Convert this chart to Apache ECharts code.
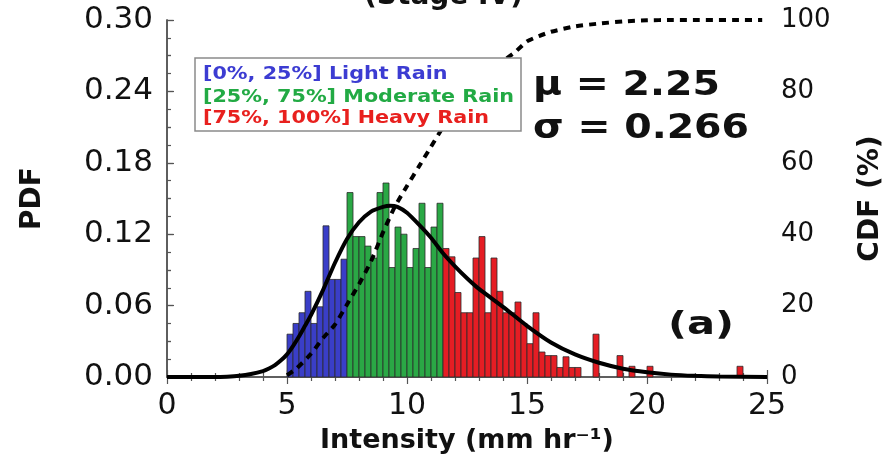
<!DOCTYPE html>
<html>
<head>
<meta charset="utf-8">
<script src="https://cdn.jsdelivr.net/npm/echarts@6/dist/echarts.min.js"></script>
<style>
  html, body { margin: 0; padding: 0; background: #fff; }
  #chart { width: 887px; height: 463px; }
</style>
</head>
<body>
<div id="chart"></div>
<script>
// histogram bins (mm/hr), PDF heights per bin
var binWidth = 0.25;
var lightStart = 5.0;
var lightPdf = [0.036, 0.045, 0.054, 0.072, 0.045, 0.059, 0.127, 0.082, 0.082, 0.099];
var moderateStart = 7.5;
var moderatePdf = [0.155, 0.118, 0.118, 0.110, 0.100, 0.155, 0.163, 0.092,
                   0.126, 0.120, 0.092, 0.108, 0.146, 0.092, 0.126, 0.146];
var heavyStart = 11.5;
var heavyPdf = [0.108, 0.101, 0.071, 0.054, 0.054, 0.100, 0.118, 0.054, 0.100, 0.072,
                0.054, 0.054, 0.063, 0.045, 0.028, 0.054, 0.021, 0.018, 0.018, 0.008,
                0.017, 0.008, 0.008, 0, 0, 0.036, 0, 0, 0, 0.018,
                0, 0.009, 0, 0, 0.009, 0, 0, 0, 0, 0,
                0, 0, 0, 0, 0, 0, 0, 0, 0, 0.009];

// fitted lognormal PDF
var pdfX = [0, 2.0, 2.5, 3.0, 3.5, 4.0, 4.25, 4.5, 4.75, 5.0, 5.25, 5.5, 5.75, 6.0, 6.5, 7.0,
            7.5, 8.0, 8.5, 9.0, 9.3, 9.6, 10.0, 10.5, 11.0, 11.5, 12.0, 12.5, 13.0, 14.0,
            15.0, 16.0, 17.0, 18.0, 19.0, 20.0, 21.0, 22.0, 23.0, 25.0];
var pdfY = [0, 0, 0.0003, 0.001, 0.0025, 0.005, 0.0072, 0.010, 0.014, 0.019, 0.026, 0.034,
            0.043, 0.052, 0.073, 0.096, 0.116, 0.130, 0.139, 0.143, 0.144, 0.143, 0.138,
            0.128, 0.117, 0.104, 0.093, 0.083, 0.074, 0.059, 0.043, 0.029, 0.019, 0.012,
            0.007, 0.004, 0.002, 0.001, 0.0005, 0];

// empirical CDF (%), right axis
var cdfX = [5.0, 5.4, 6.0, 6.5, 7.0, 7.5, 8.0, 8.5, 9.0, 9.5, 10.0, 10.5, 11.0, 11.5, 12.0,
            12.5, 13.0, 13.5, 14.0, 14.5, 15.0, 15.5, 16.0, 17.0, 18.0, 19.0, 20.0, 21.0, 24.8];
var cdfY = [0.5, 2.4, 6.5, 10.9, 14.7, 20.3, 26.0, 32.4, 40.5, 47.8, 53.5, 59.0, 64.5, 70.0,
            75.0, 79.0, 82.5, 85.5, 88.5, 91.0, 94.0, 95.5, 96.7, 98.2, 99.0, 99.6, 99.9, 100, 100];

var xTicks = [0, 25, 5];
var pdfTicks = [0, 0.30, 0.06];
var cdfTicks = [0, 100, 20];

var font = 'DejaVu Sans';
var ink = '#111';
var axisCol = '#555';

function pairs(xs, ys) {
  return xs.map(function (x, i) { return [x, ys[i]]; });
}

function binSeries(start, values, color) {
  var data = [];
  values.forEach(function (v, i) {
    if (v > 0) data.push([start + i * binWidth, v]);
  });
  return {
    type: 'custom',
    data: data,
    encode: { x: 0, y: 1 },
    z: 2,
    silent: true,
    renderItem: function (params, api) {
      var x0 = api.value(0), v = api.value(1);
      var p0 = api.coord([x0, v]);
      var p1 = api.coord([x0 + binWidth, 0]);
      return {
        type: 'rect',
        shape: { x: p0[0], y: p0[1], width: p1[0] - p0[0], height: p1[1] - p0[1] },
        style: { fill: color, stroke: '#2b2b2b', lineWidth: 0.8 }
      };
    }
  };
}

// text in the reference is drawn a little wide; stretch it horizontally
function label(text, x, y, color, size, stretch) {
  return {
    type: 'text', z: 101, x: x, y: y, scaleX: stretch,
    style: { text: text, fill: color, font: 'bold ' + size + 'px "DejaVu Sans"', textVerticalAlign: 'middle' }
  };
}

var chart = echarts.init(document.getElementById('chart'), null, { renderer: 'canvas' });

var tickStyle = { color: axisCol, width: 1.2 };

chart.setOption({
  animation: false,
  textStyle: { fontFamily: font },
  title: {
    text: '(Stage IV)',
    left: 'center',
    top: -22,
    textStyle: { fontFamily: font, fontSize: 28, fontWeight: 'bold', color: ink }
  },
  grid: { left: 167, right: 120, top: 20, bottom: 86, outerBoundsMode: 'none', containLabel: false },
  xAxis: [{
    type: 'value', min: xTicks[0], max: xTicks[1], interval: xTicks[2],
    position: 'bottom',
    axisLine: { lineStyle: { color: axisCol, width: 1.5 } },
    axisTick: { inside: true, length: 7, lineStyle: tickStyle },
    minorTick: { show: true, splitNumber: 5, length: 4, lineStyle: tickStyle },
    splitLine: { show: false },
    axisLabel: { fontSize: 30, color: ink, margin: 14, fontFamily: font },
    name: 'Intensity (mm hr⁻¹)',
    nameLocation: 'middle',
    nameGap: 50,
    nameTextStyle: { fontSize: 27, fontWeight: 'bold', color: ink, fontFamily: font }
  }, {
    type: 'value', min: xTicks[0], max: xTicks[1], interval: xTicks[2],
    position: 'top',
    axisLine: { lineStyle: { color: axisCol, width: 1.5 } },
    axisTick: { inside: true, length: 7, lineStyle: tickStyle },
    minorTick: { show: true, splitNumber: 5, length: 4, lineStyle: tickStyle },
    splitLine: { show: false },
    axisLabel: { show: false }
  }],
  yAxis: [{
    type: 'value', min: pdfTicks[0], max: pdfTicks[1], interval: pdfTicks[2],
    position: 'left',
    axisLine: { show: true, lineStyle: { color: axisCol, width: 1.5 } },
    axisTick: { show: true, inside: true, length: 7, lineStyle: tickStyle },
    minorTick: { show: true, splitNumber: 2, length: 4, lineStyle: tickStyle },
    splitLine: { show: false },
    axisLabel: {
      fontSize: 31, color: ink, margin: 14, fontFamily: font,
      formatter: function (v) { return v.toFixed(2); }
    },
    name: 'PDF',
    nameLocation: 'middle',
    nameRotate: 90,
    nameGap: 120,
    nameTextStyle: { fontSize: 28, fontWeight: 'bold', color: ink, fontFamily: font }
  }, {
    type: 'value', min: cdfTicks[0], max: cdfTicks[1], interval: cdfTicks[2],
    position: 'right',
    axisLine: { show: true, lineStyle: { color: axisCol, width: 1.5 } },
    axisTick: { show: true, inside: false, length: 6, lineStyle: tickStyle },
    minorTick: { show: true, splitNumber: 4, length: 4, lineStyle: tickStyle },
    splitLine: { show: false },
    axisLabel: { fontSize: 26, color: ink, margin: 14, fontFamily: font },
    name: 'CDF (%)',
    nameLocation: 'middle',
    nameRotate: 90,
    nameGap: 90,
    nameTextStyle: { fontSize: 28, fontWeight: 'bold', color: ink, fontFamily: font }
  }],
  graphic: [
    {
      type: 'rect', z: 100,
      shape: { x: 195, y: 58, width: 326, height: 73 },
      style: { fill: '#fff', stroke: '#8a8a8a', lineWidth: 1.5 }
    },
    label('[0%, 25%] Light Rain', 203, 74, '#3c3cd2', 18, 1.15),
    label('[25%, 75%] Moderate Rain', 203, 97, '#22aa44', 18, 1.15),
    label('[75%, 100%] Heavy Rain', 203, 118, '#e8201e', 18, 1.15),
    label('μ = 2.25', 533, 86, ink, 34, 1.16),
    label('σ = 0.266', 533, 129, ink, 34, 1.16),
    label('(a)', 668, 326, ink, 32, 1.3)
  ],
  series: [
    binSeries(lightStart, lightPdf, '#3a3ec8'),
    binSeries(moderateStart, moderatePdf, '#2aa845'),
    binSeries(heavyStart, heavyPdf, '#e51d24'),
    {
      type: 'line', name: 'PDF', xAxisIndex: 0, yAxisIndex: 0,
      data: pairs(pdfX, pdfY), smooth: 0.2, showSymbol: false, z: 5,
      lineStyle: { color: '#000', width: 4 }
    },
    {
      type: 'line', name: 'CDF', xAxisIndex: 0, yAxisIndex: 1,
      data: pairs(cdfX, cdfY), smooth: 0.2, showSymbol: false, z: 4,
      lineStyle: { color: '#000', width: 4, type: [7, 6] }
    }
  ]
});

window.addEventListener('resize', function () { chart.resize(); });
</script>
</body>
</html>
